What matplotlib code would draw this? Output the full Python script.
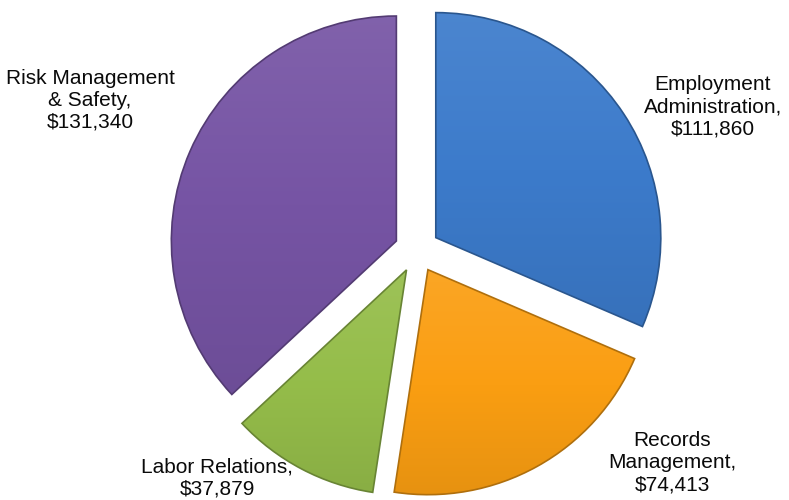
import numpy as np
import matplotlib.pyplot as plt
from matplotlib.colors import LinearSegmentedColormap, to_rgb

plt.rcParams['font.family'] = ['Liberation Sans', 'DejaVu Sans']

# data
categories = ["Employment\nAdministration", "Records\nManagement",
              "Labor Relations", "Risk Management\n& Safety"]
values = [111860, 74413, 37879, 131340]
colors = ["#3c7bcb", "#fa9e12", "#95bd4a", "#7654a4"]

W, H = 789, 500
R_PX = 225.0          # pie radius in pixels
CX, CY = 417, 250     # pie centre in pixels


def px(x, y):
    # pixel (from top-left) -> data coordinates (radius 1 = R_PX px)
    return (x - CX) / R_PX, (CY - y) / R_PX


def shade(c, f):
    r, g, b = to_rgb(c)
    if f >= 0:
        return (r + (1 - r) * f, g + (1 - g) * f, b + (1 - b) * f)
    return (r * (1 + f), g * (1 + f), b * (1 + f))


def main():
    fig = plt.figure(figsize=(W / 100, H / 100), dpi=100)
    ax = fig.add_axes([0, 0, 1, 1])

    wedges, _ = ax.pie(values, colors=colors, startangle=90, counterclock=False,
                       explode=[0.1] * len(values), radius=1.0, center=(0, 0),
                       wedgeprops=dict(linewidth=1.2))

    # soft gradient fill clipped to each wedge, darker rim
    grad = np.linspace(0, 1, 256).reshape(-1, 1)
    for w, c in zip(wedges, colors):
        cmap = LinearSegmentedColormap.from_list(
            "g", [shade(c, 0.08), c, shade(c, -0.08)])
        verts = w.get_path().vertices
        x0, y0 = verts.min(axis=0)
        x1, y1 = verts.max(axis=0)
        im = ax.imshow(grad, cmap=cmap, extent=[x0, x1, y0, y1], origin="upper",
                       aspect="auto", zorder=w.get_zorder() + 0.1)
        im.set_clip_path(w)
        w.set_edgecolor(shade(c, -0.3))
        w.set_zorder(w.get_zorder() + 0.2)
        w.set_facecolor("none")

    ax.set_aspect("auto")
    ax.set_xlim(-CX / R_PX, (W - CX) / R_PX)
    ax.set_ylim(-(H - CY) / R_PX, CY / R_PX)
    ax.axis("off")

    # labels: "name, $value"
    label_pos = [(713, 107), (672, 463), (217, 478), (90, 100)]
    for name, v, (lx, ly) in zip(categories, values, label_pos):
        x, y = px(lx, ly)
        ax.text(x, y, f"{name},\n${v:,}", ha="center", va="center",
                fontsize=15, linespacing=1.2, color="#0a0a0a")

    fig.savefig("out.png", dpi=100)


if __name__ == "__main__":
    main()
